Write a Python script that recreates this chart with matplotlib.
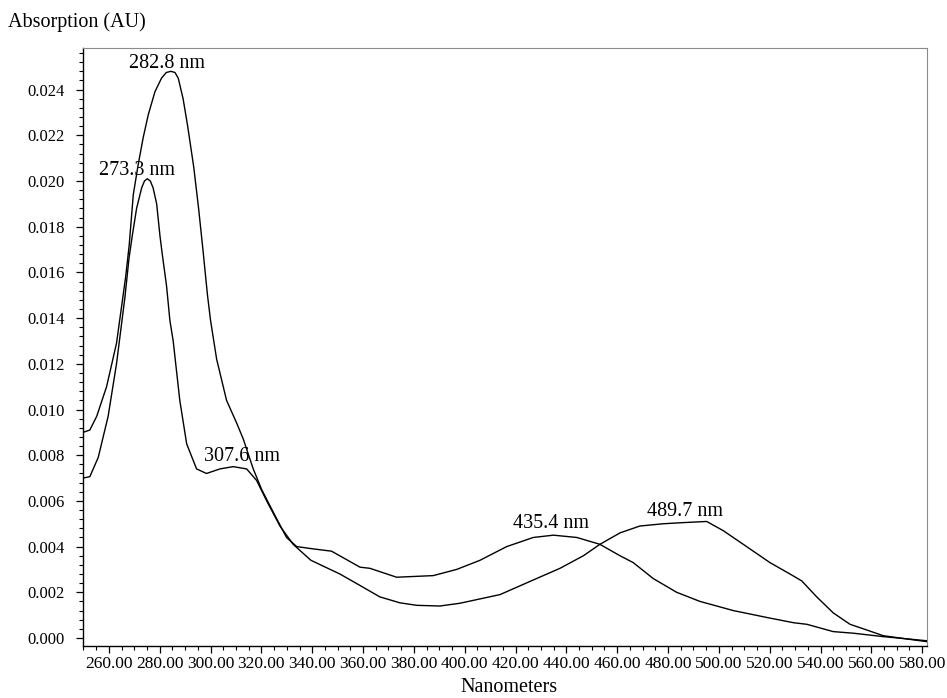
import matplotlib
matplotlib.use("Agg")
import matplotlib.pyplot as plt
from matplotlib.ticker import MultipleLocator, FormatStrFormatter

# ── Spectrum A: 282.8 nm / 435.4 nm maxima ────────────────────────────────────
wl_a = [249.8, 252.5, 255.2, 259.1, 263.0, 266.6, 268.0, 269.6, 271.5, 273.5,
        275.5, 278.1, 280.7, 282.6, 284.4, 286.0, 287.3, 289.2, 291.0, 293.4,
        295.3, 297.0, 298.8, 300.0, 302.4, 306.3, 310.3, 312.9, 316.8, 320.1,
        324.7, 329.9, 333.9, 340.4, 347.6, 358.8, 362.7, 373.2, 387.6, 396.8,
        406.0, 416.5, 427.0, 434.9, 444.1, 453.2, 461.1, 466.3, 474.2, 483.4,
        492.6, 505.7, 518.8, 529.3, 534.6, 545.0, 552.9, 564.7, 581.8]
abs_a = [0.0090, 0.0091, 0.0097, 0.0110, 0.0129, 0.0158, 0.0172, 0.0194, 0.0207, 0.0219,
         0.0229, 0.0239, 0.0245, 0.02475, 0.0248, 0.02475, 0.0245, 0.0236, 0.0224, 0.0206,
         0.0188, 0.0170, 0.0150, 0.0139, 0.0122, 0.0104, 0.0094, 0.0087, 0.0074, 0.0065,
         0.0055, 0.0044, 0.0040, 0.0039, 0.0038, 0.0031, 0.00305, 0.00266, 0.00273, 0.0030,
         0.0034, 0.0040, 0.0044, 0.0045, 0.0044, 0.0041, 0.0036, 0.0033, 0.0026, 0.0020,
         0.0016, 0.0012, 0.0009, 0.00067, 0.0006, 0.00028, 0.00021, 0.00006, -0.00012]

# ── Spectrum B: 273.3 nm / 307.6 nm / 489.7 nm maxima ─────────────────────────
wl_b = [249.9, 252.5, 255.8, 259.7, 263.0, 266.3, 267.9, 269.2, 270.9, 272.9,
        274.0, 275.1, 276.3, 277.4, 278.8, 280.1, 281.0, 282.7, 284.0, 285.3,
        287.9, 290.6, 294.5, 298.4, 303.7, 308.9, 314.2, 318.1, 322.1, 327.3,
        332.5, 339.5, 350.9, 358.8, 366.6, 374.5, 381.1, 390.2, 398.1, 413.9,
        427.0, 437.5, 446.7, 453.2, 461.1, 468.9, 478.1, 486.0, 495.2, 501.7,
        509.6, 520.1, 528.0, 532.6, 538.5, 545.0, 551.6, 558.2, 564.7, 581.8]
abs_b = [0.0070, 0.00706, 0.0079, 0.0097, 0.0120, 0.0149, 0.0166, 0.0176, 0.0188, 0.0197,
         0.0200, 0.0201, 0.0200, 0.0197, 0.0190, 0.0176, 0.0168, 0.0154, 0.0139, 0.0130,
         0.0104, 0.0085, 0.0074, 0.0072, 0.0074, 0.0075, 0.0074, 0.0069, 0.0060, 0.0049,
         0.0041, 0.0034, 0.0028, 0.0023, 0.0018, 0.00154, 0.00143, 0.0014, 0.00152, 0.0019,
         0.00254, 0.00305, 0.0036, 0.0041, 0.0046, 0.0049, 0.0050, 0.00505, 0.0051, 0.0047,
         0.0041, 0.0033, 0.0028, 0.0025, 0.0018, 0.0011, 0.0006, 0.00035, 0.0001, -0.00016]

# peak annotations: text, wavelength, absorbance of label centre
peak_labels = ["282.8 nm", "273.3 nm", "307.6 nm", "435.4 nm", "489.7 nm"]
peak_wl = [283.0, 271.0, 312.5, 434.0, 486.7]
peak_abs = [0.02516, 0.02048, 0.00793, 0.00502, 0.00553]

SERIF = ["Liberation Serif", "DejaVu Serif"]
plt.rcParams["font.family"] = SERIF

fig = plt.figure(figsize=(9.47, 6.98), dpi=100)
ax = fig.add_axes([0.0876, 0.0745, 0.8913, 0.8567])

ax.plot(wl_a, abs_a, color="black", lw=1.0)
ax.plot(wl_b, abs_b, color="black", lw=1.0)

for txt, x, y in zip(peak_labels, peak_wl, peak_abs):
    ax.text(x, y, txt, ha="center", va="center", fontsize=14.5)

ax.set_xlim(249.8, 581.9)
ax.set_ylim(-0.00035, 0.02582)

ax.xaxis.set_major_locator(MultipleLocator(20))
ax.xaxis.set_minor_locator(MultipleLocator(5))
ax.xaxis.set_major_formatter(FormatStrFormatter("%.2f"))
ax.yaxis.set_major_locator(MultipleLocator(0.002))
ax.yaxis.set_minor_locator(MultipleLocator(0.0004))
ax.yaxis.set_major_formatter(FormatStrFormatter("%.3f"))

ax.tick_params(which="major", direction="out", length=5, width=0.9,
               labelsize=12.5, pad=2)
ax.tick_params(which="minor", direction="out", length=3, width=0.8)
ax.tick_params(axis="y", which="major", labelsize=12, pad=8)

for side in ("left", "bottom"):
    ax.spines[side].set_linewidth(1.0)
for side in ("top", "right"):
    ax.spines[side].set_color("#8a8a8a")
    ax.spines[side].set_linewidth(0.8)

# x label placed in figure coords so it stays inside the canvas
fig.text(0.538, 1 - 687 / 698, "Nanometers", ha="center", va="center",
         fontsize=14.5)
fig.text(8 / 947, 1 - 22 / 698, "Absorption (AU)", ha="left", va="center",
         fontsize=14.5)

fig.savefig("out.png", dpi=100)
